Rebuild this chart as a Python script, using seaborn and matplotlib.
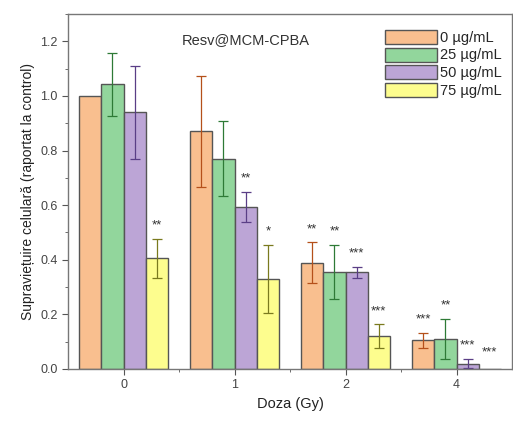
import numpy as np
import pandas as pd
import matplotlib
matplotlib.use("Agg")
import matplotlib.pyplot as plt
import seaborn as sns
from matplotlib.ticker import MultipleLocator

doses = ["0", "1", "2", "4"]
concs = ["0 µg/mL", "25 µg/mL", "50 µg/mL", "75 µg/mL"]

# mean survival, one list per concentration (order of doses)
mean_0 = [1.00, 0.87, 0.39, 0.105]
mean_25 = [1.043, 0.77, 0.355, 0.11]
mean_50 = [0.94, 0.595, 0.355, 0.02]
mean_75 = [0.405, 0.33, 0.12, 0.0]

err_0 = [0.0, 0.205, 0.075, 0.027]
err_25 = [0.115, 0.137, 0.10, 0.073]
err_50 = [0.17, 0.055, 0.02, 0.018]
err_75 = [0.073, 0.125, 0.043, 0.0]

stars_0 = ["", "", "**", "***"]
stars_25 = ["", "", "**", "**"]
stars_50 = ["", "**", "***", "***"]
stars_75 = ["**", "*", "***", "***"]

bar_colors = ["#F9BF8F", "#92D69C", "#BCA5D6", "#FDFD8E"]
err_colors = ["#B5501A", "#2E7A36", "#5A3E86", "#7A7A1E"]

means = [mean_0, mean_25, mean_50, mean_75]
errs = [err_0, err_25, err_50, err_75]
stars = [stars_0, stars_25, stars_50, stars_75]

rows = []
for c, m, e, s in zip(concs, means, errs, stars):
    for d, mv, ev, sv in zip(doses, m, e, s):
        rows.append({"Doza": d, "conc": c, "val": mv, "err": ev, "star": sv})
df = pd.DataFrame(rows)

sns.set_style("ticks")
plt.rcParams["font.family"] = ["Liberation Sans", "DejaVu Sans"]

fig = plt.figure(figsize=(5.13, 4.22), dpi=100)
ax = fig.add_axes([0.1326, 0.1256, 0.8655, 0.841])

sns.barplot(data=df, x="Doza", y="val", hue="conc", order=doses,
            hue_order=concs, palette=bar_colors, errorbar=None,
            saturation=1, width=0.8, edgecolor="#555555", linewidth=1.0,
            ax=ax)

for i, c in enumerate(concs):
    cont = ax.containers[i]
    sub = df[df["conc"] == c].set_index("Doza").loc[doses]
    for patch, (_, r) in zip(cont.patches, sub.iterrows()):
        xc = patch.get_x() + patch.get_width() / 2
        if r["err"] > 0:
            ax.errorbar(xc, r["val"], yerr=r["err"], fmt="none",
                        ecolor=err_colors[i], elinewidth=0.9, capsize=3.5,
                        capthick=0.9)
        if r["star"]:
            ytop = max(r["val"] + r["err"] + 0.048, 0.06)
            ax.text(xc, ytop, r["star"], ha="center", va="center",
                    fontsize=9.5, color="#333333")

ax.set_xlim(-0.5, 3.5)
ax.set_ylim(0, 1.3)
ax.yaxis.set_major_locator(MultipleLocator(0.2))
ax.yaxis.set_minor_locator(MultipleLocator(0.1))
ax.set_xticks([0.5, 1.5, 2.5], minor=True)
ax.yaxis.set_major_formatter(matplotlib.ticker.FormatStrFormatter("%.1f"))
ax.tick_params(axis="both", which="major", labelsize=9, colors="#555555",
               length=4, labelcolor="#444444")
ax.tick_params(axis="both", which="minor", length=2.5, colors="#555555")

for sp in ax.spines.values():
    sp.set_visible(True)
    sp.set_color("#777777")
    sp.set_linewidth(1.0)

ax.set_xlabel("Doza (Gy)", fontsize=10.5, color="#222222")
ax.set_ylabel("Supraviețuire celulară (raportat la control)", fontsize=10,
              color="#222222")

ax.text(0.40, 0.927, "Resv@MCM-CPBA", transform=ax.transAxes,
        ha="center", va="center", fontsize=10.5, color="#333333")

ax.legend(title=None, loc="upper right", frameon=False, fontsize=10.5,
          handlelength=3.6, handleheight=1.1, labelspacing=0.2,
          handletextpad=0.2, borderaxespad=0.3, bbox_to_anchor=(1.0, 0.985))

fig.savefig("out.png", dpi=100)
